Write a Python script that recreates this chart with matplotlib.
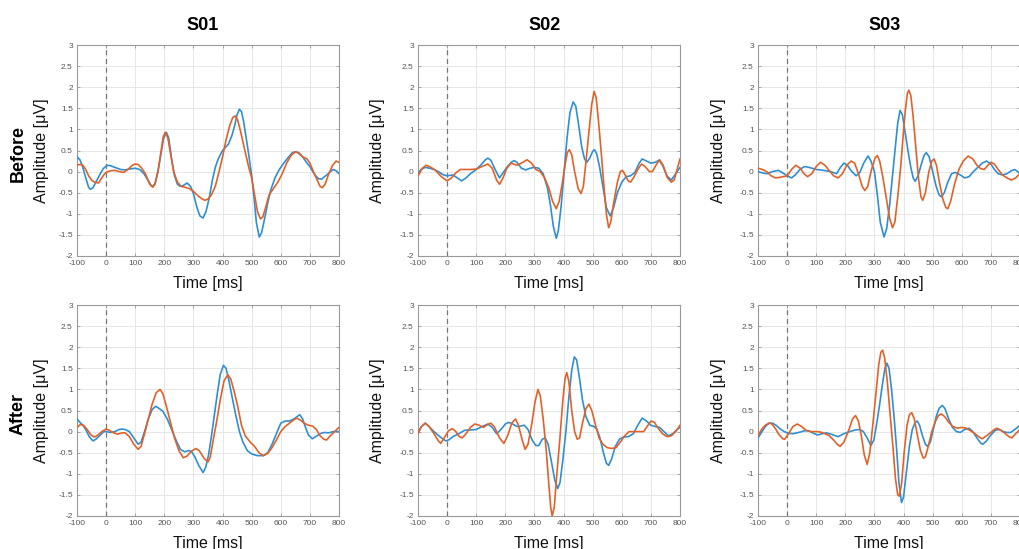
import matplotlib
matplotlib.use("Agg")
import matplotlib.pyplot as plt

plt.rcParams['font.family'] = ['Liberation Sans', 'DejaVu Sans']
plt.rcParams['axes.unicode_minus'] = False

subjects = ["S01", "S02", "S03"]
conditions = ["Before", "After"]
xticks = [-100, 0, 100, 200, 300, 400, 500, 600, 700, 800]
yticks = [-2, -1.5, -1, -0.5, 0, 0.5, 1, 1.5, 2, 2.5, 3]
ytick_labels = ["-2", "-1.5", "-1", "-0.5", "0", "0.5", "1", "1.5", "2", "2.5", "3"]

# Each list holds (time in ms, amplitude in uV) pairs.
# ---- Before, S01 ----
before_s01_blue = [(-100, 0.35), (-90, 0.28), (-80, 0.1), (-70, -0.15), (-60, -0.37), (-54, -0.42), (-45, -0.38), (-35, -0.25), (-20, -0.05), (-10, 0.07), (0, 0.13), (5, 0.15), (15, 0.14), (30, 0.1), (50, 0.05), (65, 0.04), (80, 0.06), (100, 0.08), (115, 0.05), (130, -0.05), (145, -0.22), (155, -0.33), (160, -0.35), (168, -0.28), (178, 0.0), (188, 0.4), (197, 0.78), (207, 0.93), (215, 0.8), (225, 0.3), (235, -0.1), (245, -0.3), (255, -0.35), (265, -0.33), (278, -0.27), (290, -0.35), (300, -0.52), (312, -0.85), (322, -1.05), (333, -1.1), (343, -0.95), (355, -0.6), (365, -0.2), (375, 0.1), (385, 0.3), (400, 0.5), (420, 0.65), (432, 0.85), (442, 1.1), (450, 1.35), (458, 1.48), (465, 1.42), (472, 1.2), (480, 0.85), (490, 0.4), (500, -0.1), (508, -0.6), (516, -1.2), (526, -1.55), (534, -1.45), (545, -1.1), (555, -0.75), (565, -0.45), (580, -0.15), (595, 0.05), (610, 0.2), (625, 0.33), (640, 0.45), (650, 0.47), (660, 0.44), (675, 0.35), (690, 0.2), (700, 0.12), (710, 0.0), (720, -0.1), (730, -0.17), (740, -0.18), (750, -0.12), (760, -0.07), (770, 0.0), (780, 0.05), (790, 0.02), (800, -0.05)]
before_s01_orange = [(-100, 0.15), (-90, 0.17), (-80, 0.15), (-70, 0.05), (-60, -0.1), (-50, -0.2), (-40, -0.25), (-26, -0.27), (-15, -0.15), (-5, -0.05), (0, -0.02), (15, 0.02), (30, 0.03), (45, 0.0), (60, -0.02), (75, 0.05), (90, 0.15), (100, 0.18), (110, 0.17), (120, 0.1), (135, -0.05), (150, -0.3), (160, -0.37), (168, -0.3), (178, 0.0), (188, 0.45), (196, 0.82), (203, 0.93), (212, 0.8), (222, 0.4), (232, 0.0), (245, -0.25), (258, -0.35), (270, -0.37), (285, -0.4), (300, -0.47), (315, -0.57), (330, -0.65), (340, -0.68), (350, -0.65), (362, -0.55), (375, -0.35), (388, 0.0), (400, 0.35), (412, 0.75), (425, 1.1), (435, 1.28), (443, 1.32), (452, 1.22), (462, 0.95), (475, 0.55), (490, 0.1), (500, -0.15), (510, -0.55), (520, -0.95), (530, -1.12), (538, -1.08), (548, -0.85), (560, -0.55), (575, -0.4), (590, -0.25), (605, -0.05), (620, 0.2), (635, 0.38), (650, 0.47), (662, 0.45), (675, 0.35), (690, 0.3), (700, 0.2), (712, 0.0), (725, -0.2), (735, -0.35), (743, -0.38), (752, -0.3), (765, -0.05), (778, 0.15), (790, 0.25), (800, 0.22)]

# ---- Before, S02 ----
before_s02_blue = [(-100, -0.05), (-90, 0.05), (-75, 0.1), (-60, 0.08), (-45, 0.05), (-30, 0.0), (-15, -0.07), (0, -0.1), (20, -0.08), (35, -0.15), (50, -0.22), (65, -0.15), (80, -0.05), (100, 0.05), (115, 0.15), (130, 0.27), (140, 0.32), (150, 0.27), (165, 0.05), (180, -0.15), (190, -0.05), (205, 0.1), (220, 0.22), (230, 0.26), (240, 0.22), (255, 0.08), (270, 0.04), (285, 0.08), (300, 0.1), (315, 0.08), (330, -0.05), (345, -0.4), (355, -0.8), (365, -1.3), (375, -1.58), (382, -1.4), (392, -0.8), (402, 0.0), (412, 0.8), (422, 1.4), (433, 1.65), (442, 1.55), (452, 1.1), (462, 0.6), (472, 0.3), (480, 0.22), (490, 0.32), (500, 0.48), (506, 0.52), (514, 0.42), (524, 0.1), (535, -0.35), (547, -0.85), (560, -1.05), (572, -0.85), (585, -0.5), (600, -0.25), (615, -0.12), (630, -0.1), (645, -0.02), (660, 0.2), (670, 0.3), (685, 0.25), (700, 0.2), (715, 0.22), (728, 0.27), (740, 0.15), (755, -0.1), (770, -0.2), (785, -0.05), (800, 0.1)]
before_s02_orange = [(-100, -0.1), (-85, 0.08), (-72, 0.15), (-55, 0.1), (-40, 0.03), (-20, -0.12), (0, -0.22), (15, -0.15), (30, -0.03), (45, 0.05), (60, 0.05), (80, 0.05), (100, 0.06), (120, 0.12), (140, 0.18), (155, 0.08), (170, -0.2), (180, -0.3), (192, -0.15), (205, 0.08), (220, 0.2), (240, 0.15), (260, 0.22), (275, 0.28), (290, 0.2), (305, 0.05), (320, 0.0), (335, -0.15), (350, -0.4), (362, -0.7), (375, -0.88), (385, -0.7), (395, -0.3), (405, 0.15), (413, 0.45), (420, 0.52), (428, 0.4), (438, 0.0), (450, -0.4), (460, -0.52), (468, -0.35), (478, 0.3), (488, 1.0), (497, 1.6), (505, 1.9), (512, 1.75), (520, 1.2), (530, 0.4), (540, -0.45), (548, -1.05), (555, -1.33), (562, -1.2), (572, -0.75), (585, -0.25), (595, 0.0), (602, 0.03), (612, -0.08), (622, -0.22), (630, -0.25), (640, -0.15), (655, 0.05), (668, 0.18), (680, 0.12), (695, 0.0), (705, 0.0), (720, 0.18), (730, 0.28), (742, 0.15), (757, -0.15), (770, -0.25), (780, -0.2), (790, 0.05), (800, 0.3)]

# ---- Before, S03 ----
before_s03_blue = [(-100, 0.0), (-85, -0.03), (-70, -0.05), (-50, 0.0), (-30, 0.03), (-15, -0.03), (0, -0.1), (15, -0.15), (28, -0.08), (45, 0.06), (60, 0.12), (75, 0.1), (100, 0.05), (125, 0.03), (150, 0.0), (170, -0.05), (183, 0.1), (195, 0.2), (207, 0.15), (220, 0.02), (237, -0.1), (250, -0.02), (263, 0.2), (278, 0.37), (288, 0.25), (300, 0.0), (310, -0.55), (320, -1.2), (333, -1.55), (342, -1.35), (352, -0.8), (362, -0.1), (372, 0.6), (380, 1.15), (388, 1.45), (396, 1.35), (405, 0.95), (415, 0.5), (425, 0.1), (433, -0.15), (440, -0.23), (450, -0.1), (460, 0.15), (470, 0.38), (478, 0.45), (488, 0.35), (500, 0.0), (512, -0.35), (522, -0.55), (530, -0.6), (540, -0.5), (552, -0.25), (565, -0.05), (578, -0.02), (595, -0.08), (610, -0.15), (625, -0.12), (640, 0.0), (655, 0.1), (670, 0.2), (685, 0.25), (700, 0.18), (712, 0.05), (725, -0.05), (740, -0.08), (755, -0.05), (770, 0.02), (782, 0.05), (792, 0.0), (800, -0.05)]
before_s03_orange = [(-100, 0.08), (-85, 0.05), (-70, 0.0), (-55, -0.1), (-40, -0.15), (-20, -0.13), (0, -0.1), (15, 0.05), (30, 0.15), (45, 0.08), (58, -0.05), (70, -0.12), (85, -0.05), (100, 0.12), (115, 0.22), (130, 0.15), (145, 0.02), (160, -0.1), (175, -0.15), (190, -0.05), (205, 0.15), (220, 0.25), (232, 0.2), (245, -0.05), (258, -0.35), (267, -0.45), (277, -0.35), (290, 0.05), (302, 0.32), (310, 0.38), (318, 0.25), (328, -0.1), (340, -0.6), (352, -1.1), (362, -1.33), (370, -1.2), (380, -0.6), (390, 0.1), (398, 0.8), (406, 1.45), (413, 1.85), (418, 1.93), (425, 1.8), (433, 1.3), (443, 0.5), (452, -0.2), (460, -0.6), (466, -0.68), (475, -0.5), (487, 0.0), (497, 0.25), (505, 0.3), (513, 0.15), (523, -0.25), (535, -0.65), (545, -0.85), (552, -0.88), (562, -0.7), (575, -0.3), (590, 0.05), (605, 0.25), (622, 0.37), (638, 0.3), (652, 0.15), (665, 0.07), (677, 0.05), (690, 0.15), (700, 0.22), (712, 0.18), (725, 0.05), (740, -0.08), (755, -0.15), (770, -0.2), (785, -0.15), (800, -0.05)]

# ---- After, S01 ----
after_s01_blue = [(-100, 0.3), (-90, 0.22), (-80, 0.15), (-70, 0.05), (-58, -0.12), (-45, -0.22), (-35, -0.18), (-20, -0.08), (-8, 0.0), (0, 0.0), (15, -0.02), (30, 0.0), (45, 0.05), (55, 0.06), (65, 0.05), (80, 0.0), (95, -0.15), (110, -0.3), (120, -0.25), (132, 0.0), (145, 0.3), (158, 0.52), (170, 0.6), (182, 0.55), (195, 0.48), (210, 0.3), (225, 0.05), (240, -0.2), (255, -0.42), (270, -0.48), (283, -0.45), (293, -0.47), (305, -0.6), (318, -0.8), (333, -0.97), (342, -0.85), (352, -0.55), (362, -0.1), (372, 0.4), (382, 0.9), (392, 1.35), (403, 1.57), (412, 1.5), (422, 1.2), (432, 0.85), (445, 0.4), (458, 0.0), (470, -0.25), (485, -0.45), (500, -0.53), (520, -0.57), (540, -0.57), (555, -0.5), (570, -0.3), (585, -0.05), (600, 0.2), (615, 0.25), (630, 0.25), (645, 0.3), (655, 0.35), (665, 0.4), (675, 0.3), (685, 0.1), (695, -0.08), (708, -0.17), (720, -0.12), (735, -0.05), (750, -0.02), (765, -0.03), (780, 0.0), (800, 0.0)]
after_s01_orange = [(-100, 0.1), (-88, 0.17), (-78, 0.15), (-65, 0.05), (-52, -0.08), (-40, -0.13), (-28, -0.08), (-15, 0.0), (0, 0.06), (12, 0.03), (25, -0.03), (40, -0.06), (55, -0.03), (65, -0.03), (80, -0.12), (95, -0.3), (110, -0.42), (120, -0.35), (132, -0.05), (145, 0.3), (158, 0.65), (172, 0.92), (185, 1.0), (195, 0.9), (207, 0.6), (220, 0.25), (235, -0.15), (250, -0.45), (265, -0.62), (278, -0.58), (292, -0.47), (308, -0.4), (320, -0.45), (335, -0.62), (350, -0.72), (358, -0.6), (368, -0.2), (380, 0.25), (392, 0.75), (405, 1.2), (418, 1.35), (428, 1.25), (440, 0.95), (452, 0.6), (465, 0.15), (478, -0.1), (495, -0.25), (510, -0.35), (525, -0.5), (540, -0.57), (555, -0.52), (570, -0.38), (585, -0.2), (600, 0.0), (615, 0.12), (630, 0.2), (645, 0.28), (655, 0.32), (668, 0.27), (680, 0.2), (695, 0.15), (710, 0.13), (722, 0.05), (735, -0.1), (748, -0.18), (757, -0.2), (770, -0.1), (785, 0.0), (800, 0.1)]

# ---- After, S02 ----
after_s02_blue = [(-100, -0.02), (-88, 0.12), (-75, 0.2), (-62, 0.12), (-45, 0.0), (-25, -0.12), (-5, -0.22), (5, -0.2), (20, -0.12), (40, -0.05), (60, 0.03), (80, 0.04), (100, 0.05), (120, 0.12), (140, 0.18), (155, 0.1), (170, -0.05), (185, 0.05), (200, 0.18), (212, 0.22), (225, 0.18), (240, 0.12), (252, 0.13), (265, 0.15), (278, 0.05), (292, -0.2), (305, -0.33), (315, -0.33), (327, -0.18), (337, -0.15), (347, -0.3), (358, -0.7), (370, -1.15), (380, -1.35), (388, -1.2), (397, -0.7), (408, 0.0), (418, 0.8), (428, 1.45), (437, 1.77), (445, 1.7), (455, 1.25), (465, 0.75), (477, 0.35), (490, 0.15), (505, 0.12), (515, 0.05), (525, -0.15), (537, -0.5), (547, -0.75), (555, -0.8), (565, -0.65), (578, -0.35), (592, -0.18), (605, -0.13), (622, -0.12), (640, -0.05), (655, 0.15), (670, 0.32), (685, 0.25), (700, 0.15), (715, 0.12), (730, 0.1), (745, 0.0), (760, -0.1), (775, -0.05), (790, 0.05), (800, 0.1)]
after_s02_orange = [(-100, -0.05), (-88, 0.12), (-75, 0.2), (-62, 0.12), (-45, -0.05), (-30, -0.22), (-22, -0.28), (-10, -0.15), (5, 0.02), (18, 0.07), (30, 0.0), (42, -0.12), (52, -0.15), (65, -0.05), (80, 0.1), (95, 0.18), (110, 0.15), (125, 0.1), (140, 0.17), (150, 0.2), (162, 0.12), (180, -0.15), (195, -0.28), (208, -0.1), (222, 0.2), (235, 0.3), (245, 0.15), (258, -0.2), (268, -0.42), (278, -0.3), (290, 0.15), (302, 0.7), (312, 1.0), (320, 0.85), (330, 0.3), (340, -0.4), (350, -1.3), (356, -1.8), (361, -2.0), (368, -1.8), (377, -1.0), (387, -0.2), (397, 0.7), (405, 1.25), (411, 1.4), (418, 1.2), (428, 0.5), (438, 0.0), (447, -0.18), (455, -0.15), (465, 0.2), (477, 0.55), (487, 0.65), (497, 0.5), (510, 0.15), (522, -0.15), (535, -0.3), (550, -0.38), (565, -0.4), (580, -0.38), (595, -0.25), (610, -0.1), (625, 0.0), (640, 0.0), (660, 0.0), (675, 0.0), (690, 0.15), (700, 0.25), (712, 0.22), (725, 0.08), (740, -0.05), (755, -0.12), (770, -0.1), (785, 0.0), (800, 0.15)]

# ---- After, S03 ----
after_s03_blue = [(-100, -0.15), (-88, -0.02), (-75, 0.12), (-62, 0.2), (-50, 0.2), (-38, 0.15), (-25, 0.07), (-10, 0.0), (5, -0.04), (20, -0.05), (40, -0.02), (60, 0.02), (75, 0.02), (90, -0.04), (105, -0.08), (120, -0.05), (135, -0.03), (155, -0.07), (175, -0.12), (195, -0.05), (215, 0.0), (235, 0.04), (250, 0.05), (262, 0.0), (275, -0.15), (288, -0.33), (298, -0.2), (308, 0.2), (318, 0.65), (328, 1.15), (336, 1.5), (343, 1.62), (350, 1.5), (358, 1.05), (368, 0.3), (376, -0.4), (384, -1.2), (393, -1.68), (400, -1.55), (410, -0.95), (420, -0.35), (430, 0.05), (440, 0.22), (447, 0.25), (455, 0.15), (465, -0.1), (475, -0.3), (482, -0.35), (492, -0.25), (502, 0.05), (512, 0.35), (522, 0.55), (533, 0.62), (542, 0.55), (555, 0.3), (568, 0.1), (582, 0.0), (595, -0.02), (610, 0.05), (625, 0.08), (638, 0.0), (652, -0.15), (665, -0.27), (672, -0.3), (685, -0.22), (700, -0.08), (715, 0.03), (728, 0.05), (742, 0.0), (755, -0.02), (768, -0.02), (782, 0.05), (800, 0.15)]
after_s03_orange = [(-100, -0.1), (-88, 0.05), (-75, 0.15), (-62, 0.2), (-52, 0.18), (-40, 0.07), (-28, -0.07), (-15, -0.17), (-8, -0.18), (5, -0.05), (20, 0.12), (35, 0.18), (50, 0.12), (65, 0.03), (80, 0.0), (100, 0.0), (115, -0.01), (130, -0.05), (145, -0.1), (160, -0.2), (172, -0.3), (182, -0.35), (195, -0.25), (210, 0.0), (225, 0.3), (235, 0.38), (245, 0.25), (255, -0.1), (265, -0.55), (275, -0.78), (284, -0.5), (295, 0.2), (305, 0.9), (315, 1.6), (322, 1.88), (328, 1.93), (335, 1.75), (344, 1.2), (354, 0.4), (364, -0.4), (372, -1.1), (380, -1.5), (385, -1.53), (393, -1.25), (402, -0.5), (412, 0.15), (420, 0.4), (428, 0.45), (437, 0.3), (448, -0.1), (458, -0.45), (468, -0.63), (475, -0.6), (485, -0.35), (497, 0.0), (510, 0.25), (520, 0.38), (530, 0.42), (542, 0.35), (555, 0.22), (570, 0.12), (585, 0.08), (600, 0.1), (615, 0.08), (630, 0.02), (645, -0.05), (660, -0.13), (670, -0.17), (685, -0.1), (700, -0.02), (712, 0.05), (722, 0.08), (735, 0.03), (750, -0.05), (762, -0.12), (772, -0.15), (785, -0.05), (800, 0.05)]

series = {
    (0, 0): (before_s01_blue, before_s01_orange),
    (0, 1): (before_s02_blue, before_s02_orange),
    (0, 2): (before_s03_blue, before_s03_orange),
    (1, 0): (after_s01_blue, after_s01_orange),
    (1, 1): (after_s02_blue, after_s02_orange),
    (1, 2): (after_s03_blue, after_s03_orange),
}

BLUE = "#2f8fd2"
ORANGE = "#e0622a"
W, H = 1019, 549
fig = plt.figure(figsize=(W / 100, H / 100), dpi=100)

col_left = [77, 418, 758]
ax_w = 262
row_top = [45, 305]
ax_h = 211
ylabel_x = [49, 385, 726]

for (r, c), (blue, orange) in series.items():
    ax = fig.add_axes([col_left[c] / W, 1 - (row_top[r] + ax_h) / H, ax_w / W, ax_h / H])
    bt, bv = zip(*blue)
    ot, ov = zip(*orange)
    ax.plot(bt, bv, color=BLUE, lw=1.2, zorder=3, solid_joinstyle="round")
    ax.plot(ot, ov, color=ORANGE, lw=1.2, zorder=3, solid_joinstyle="round")
    ax.axvline(0, color="#777777", lw=0.9, ls=(0, (4, 3)), zorder=2)
    ax.set_xlim(-100, 800)
    ax.set_ylim(-2, 3)
    ax.set_xticks(xticks)
    ax.set_yticks(yticks)
    ax.set_yticklabels(ytick_labels)
    ax.grid(True, color="#e6e6e6", lw=0.7, zorder=0)
    ax.set_axisbelow(True)
    ax.tick_params(direction="in", length=2.5, width=0.6, colors="#999999",
                   labelcolor="#555555", labelsize=6, top=True, right=True, pad=3)
    for s in ax.spines.values():
        s.set_color("#999999")
        s.set_linewidth(0.8)
    ax.set_xlabel("Time [ms]", fontsize=11.5, color="#111111")
    ax.set_ylabel("Amplitude [μV]", fontsize=11.5, color="#111111")
    ax.yaxis.set_label_coords((ylabel_x[c] - col_left[c]) / ax_w, 0.5)
    ax.xaxis.set_label_coords(0.5, -(276 - 256) / ax_h)

title_x = [203, 545, 885]
for c, name in enumerate(subjects):
    fig.text(title_x[c] / W, 1 - 25 / H, name, ha="center", va="center",
             fontsize=13, fontweight="bold")

row_label_y = [153, 414]
for r, name in enumerate(conditions):
    fig.text(18 / W, 1 - row_label_y[r] / H, name, ha="center", va="center",
             rotation=90, fontsize=13, fontweight="bold")

fig.savefig("out.png", dpi=100)
